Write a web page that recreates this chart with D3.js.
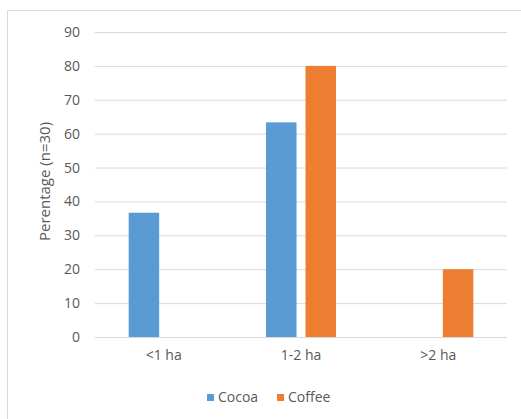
<!DOCTYPE html>
<html>
<head>
<meta charset="utf-8">
<script src="https://cdn.jsdelivr.net/npm/d3@7"></script>
<style>
  html, body { margin: 0; padding: 0; background: #fff; }
  svg { display: block; }
  text { font-family: "Open Sans", "Liberation Sans", sans-serif; fill: #595959; }
</style>
</head>
<body>
<svg id="chart" width="521" height="419"></svg>
<script>
// Farm size categories and share of respondents per crop
const categories = ["<1 ha", "1-2 ha", ">2 ha"];
const seriesNames = ["Cocoa", "Coffee"];
const cocoaValues = [36.67, 63.33, 0];
const coffeeValues = [0, 80, 20];
const yTicks = [0, 10, 20, 30, 40, 50, 60, 70, 80, 90];
const colors = ["#5B9BD5", "#ED7D31"];

const svg = d3.select("#chart");
const W = 521, H = 419;
const plot = { left: 95, right: 507, top: 32, bottom: 337 };
const labelSize = 14;

// Chart area frame
svg.append("rect")
  .attr("x", 7.5).attr("y", 10.5)
  .attr("width", W + 10).attr("height", H + 10)
  .attr("fill", "#fff").attr("stroke", "#D9D9D9").attr("stroke-width", 1);

const x = d3.scaleBand().domain(categories).range([plot.left, plot.right]).paddingInner(0).paddingOuter(0);
const y = d3.scaleLinear().domain([0, 90]).range([plot.bottom, plot.top]);

// Gridlines and y labels
const yAxis = d3.axisLeft(y).tickValues(yTicks).tickSize(-(plot.right - plot.left)).tickPadding(15);
const gy = svg.append("g").attr("transform", `translate(${plot.left},0)`).call(yAxis);
gy.select(".domain").remove();
gy.selectAll(".tick line").attr("stroke", "#D9D9D9").attr("stroke-width", 1);
gy.selectAll(".tick text").attr("font-size", labelSize).style("fill", "#595959")
  .attr("font-family", "'Open Sans', sans-serif");

// Bars
const barW = 30.5, gap = 9;
const offsets = [-(barW + gap) / 2, (barW + gap) / 2];
const seriesValues = [cocoaValues, coffeeValues];
seriesValues.forEach((vals, si) => {
  svg.append("g").selectAll("rect")
    .data(categories.map((c, i) => ({ c, v: vals[i] })).filter(d => d.v > 0))
    .join("rect")
    .attr("x", d => x(d.c) + x.bandwidth() / 2 + offsets[si] - barW / 2)
    .attr("width", barW)
    .attr("y", d => y(d.v))
    .attr("height", d => y(0) - y(d.v))
    .attr("fill", colors[si]);
});

// Category axis labels
const xAxis = d3.axisBottom(x).tickSize(0).tickPadding(13);
const gx = svg.append("g").attr("transform", `translate(0,${plot.bottom})`).call(xAxis);
gx.select(".domain").attr("stroke", "#D9D9D9").attr("d", `M${plot.left},0.5H${plot.right}`);
gx.selectAll(".tick text").attr("font-size", labelSize).style("fill", "#595959")
  .attr("font-family", "'Open Sans', sans-serif");

// Y axis title
svg.append("text")
  .attr("transform", `translate(50,${(plot.top + plot.bottom) / 2 - 3}) rotate(-90)`)
  .attr("text-anchor", "middle")
  .attr("font-size", 15)
  .text("Perentage (n=30)");

// Legend
const legend = svg.append("g").attr("transform", "translate(207,397)");
const legendX = [0, 70];
seriesNames.forEach((name, i) => {
  const g = legend.append("g").attr("transform", `translate(${legendX[i]},0)`);
  g.append("rect").attr("x", 0).attr("y", -3).attr("width", 7).attr("height", 7).attr("fill", colors[i]);
  g.append("text").attr("x", 11).attr("y", 0).attr("dy", "0.35em").attr("font-size", labelSize).text(name);
});
</script>
</body>
</html>
